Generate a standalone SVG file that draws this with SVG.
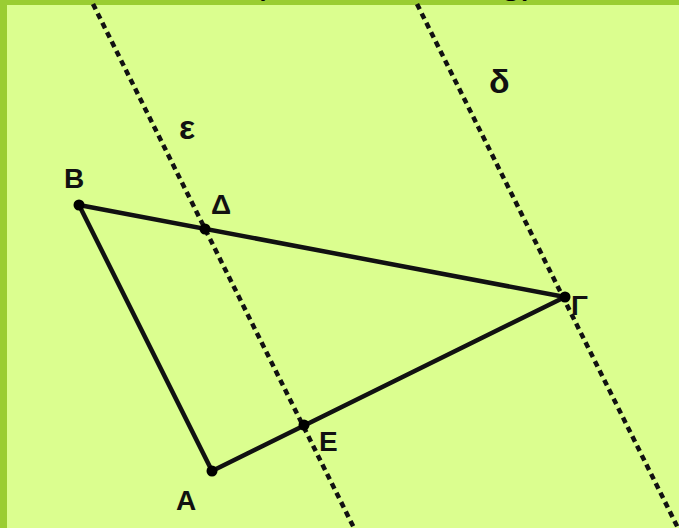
<svg xmlns="http://www.w3.org/2000/svg" width="679" height="528" viewBox="0 0 679 528">
<style>
.lbl{font-family:"Liberation Sans",Arial,sans-serif;font-weight:bold;font-size:28px;fill:#111}
.gr{font-family:"Liberation Sans",Arial,sans-serif;font-weight:bold;font-size:34px;fill:#111}
.top{font-family:"Liberation Sans",Arial,sans-serif;font-size:40px;fill:#000}
.dash{stroke:#111;stroke-width:4.5;stroke-dasharray:6 4.5;fill:none}
.seg{stroke:#111;stroke-width:4.5;stroke-linecap:round;stroke-linejoin:round;fill:none}
.pt{fill:#000}
</style>
<rect x="0" y="0" width="679" height="528" fill="#9acd32"/>
<rect x="7" y="5" width="672" height="523" fill="#dbfe8f"/>
<g id="title">
<text class="top" x="252" y="-7">(</text>
<text class="top" x="500" y="-7">g)</text>
</g>
<g id="connectors">
<line id="line-epsilon" class="dash" x1="93" y1="4" x2="356" y2="532"/>
<line id="line-delta" class="dash" x1="417" y1="4" x2="680" y2="532"/>
<polyline id="triangle" class="seg" points="79,205 565,297 212,471 79,205"/>
</g>
<g id="B"><circle class="pt" cx="79" cy="205" r="5.5"/><text class="lbl" x="64" y="188">B</text></g>
<g id="Delta"><circle class="pt" cx="205" cy="229" r="5.5"/><text class="lbl" x="211" y="214">Δ</text></g>
<g id="Gamma"><circle class="pt" cx="565" cy="297" r="5.5"/><text class="lbl" x="571" y="315">Γ</text></g>
<g id="A"><circle class="pt" cx="212" cy="471" r="5.5"/><text class="lbl" x="176" y="510">A</text></g>
<g id="E"><circle class="pt" cx="304" cy="425" r="5.5"/><text class="lbl" x="319" y="451">E</text></g>
<g id="epsilon"><text class="gr" x="179" y="139">ε</text></g>
<g id="delta"><text class="gr" x="489" y="93">δ</text></g>
</svg>
